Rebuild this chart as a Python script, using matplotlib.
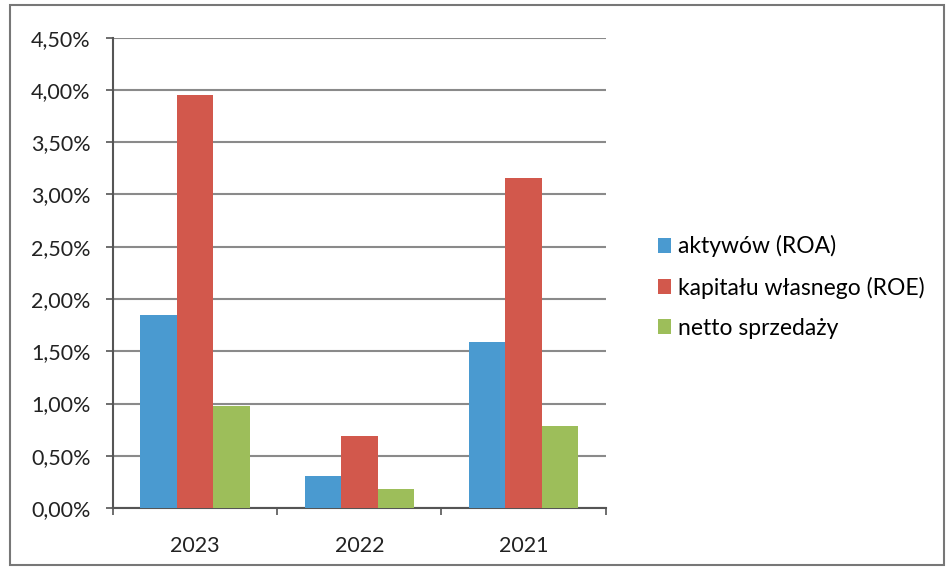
import numpy as np
import matplotlib.pyplot as plt
from matplotlib.patches import Rectangle
from matplotlib.ticker import FuncFormatter

years = ['2023', '2022', '2021']
series_names = ['aktywów (ROA)', 'kapitału własnego (ROE)', 'netto sprzedaży']
roa = [1.85, 0.31, 1.59]
roe = [3.95, 0.69, 3.16]
netto = [0.98, 0.18, 0.78]
colors = ['#4A9AD0', '#D2584C', '#9DBE5A']

plt.rcParams['font.family'] = ['Lato', 'DejaVu Sans']

fig = plt.figure(figsize=(9.48, 5.68), dpi=100)
ax = fig.add_axes([0.119, 0.1056, 0.520, 0.828])

x = np.arange(len(years))
w = 1 / 4.5
for i, (vals, name) in enumerate(zip([roa, roe, netto], series_names)):
    ax.bar(x + (i - 1) * w, vals, width=w, color=colors[i], label=name, zorder=3)

ax.set_xlim(-0.5, 2.5)
ax.set_ylim(0, 4.5)
ax.set_yticks(np.arange(0, 4.51, 0.5))
ax.yaxis.set_major_formatter(FuncFormatter(lambda v, p: f'{v:.2f}%'.replace('.', ',')))
ax.set_xticks(x)
ax.set_xticklabels(years)
ax.set_xticks([-0.5, 0.5, 1.5, 2.5], minor=True)
ax.tick_params(axis='x', which='major', length=0, pad=20, labelsize=15.5, colors='#222222')
ax.tick_params(axis='x', which='minor', length=5, width=1.2, color='#555555', direction='out')
ax.tick_params(axis='y', length=5, width=1.2, color='#555555', labelsize=15.5,
               labelcolor='#222222', pad=11)
ax.grid(axis='y', color='#8a8a8a', linewidth=1.5, zorder=0)
for s in ['top', 'right']:
    ax.spines[s].set_visible(False)
for s in ['left', 'bottom']:
    ax.spines[s].set_color('#555555')
    ax.spines[s].set_linewidth(1.5)

ax.legend(loc='center left', bbox_to_anchor=(1.105, 0.47), borderaxespad=0, borderpad=0,
          frameon=False, fontsize=16.5, handlelength=0.6, handleheight=0.6,
          handletextpad=0.3, labelspacing=0.83)

fig.patches.append(Rectangle((0.011, 0.006), 0.985, 0.985, transform=fig.transFigure,
                             fill=False, edgecolor='#777777', linewidth=1.5))

fig.savefig('out.png', dpi=100)
